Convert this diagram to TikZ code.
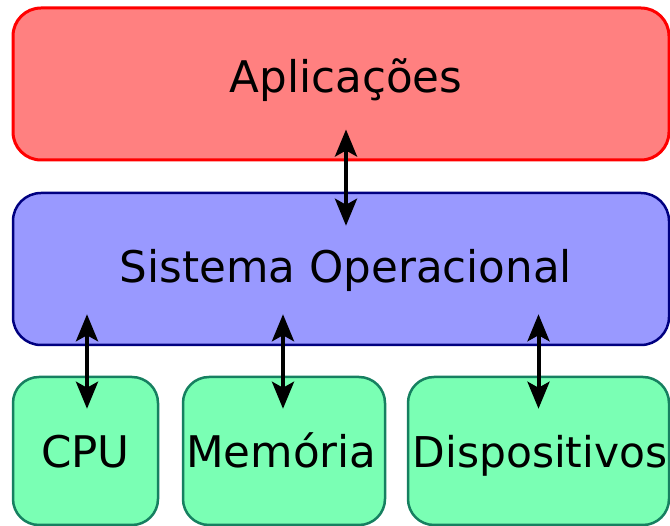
\documentclass[tikz,border=0pt]{standalone}
\usepackage{fontspec}
\setmainfont{DejaVu Sans}
\usetikzlibrary{arrows.meta}
\definecolor{appfill}{RGB}{255,128,128}
\definecolor{appdraw}{RGB}{255,0,0}
\definecolor{sofill}{RGB}{153,153,255}
\definecolor{sodraw}{RGB}{0,0,128}
\definecolor{hwfill}{RGB}{122,255,180}
\definecolor{hwdraw}{RGB}{22,128,96}
\tikzset{
  layer/.style={rounded corners=28pt, inner sep=0pt},
  applayer/.style={layer, fill=appfill, draw=appdraw, line width=3pt},
  solayer/.style={layer, fill=sofill, draw=sodraw, line width=2.5pt},
  hwbox/.style={layer, fill=hwfill, draw=hwdraw, line width=2.5pt, rounded corners=26pt, minimum height=148pt},
  lbl/.style={anchor=base, inner sep=0pt, font=\fontsize{43.6}{50}\selectfont},
  arr/.style={line width=4pt, {Stealth[length=27pt,width=22pt,inset=6pt]}-{Stealth[length=27pt,width=22pt,inset=6pt]}}
}
\begin{document}
\begin{tikzpicture}[x=1pt,y=-1pt]
\useasboundingbox (0,0) rectangle (670,526);
\node[applayer, minimum width=656pt, minimum height=152pt] (app) at (341,84) {};
\node[solayer, minimum width=656pt, minimum height=152pt] (so) at (341,269) {};
\node[hwbox, minimum width=145pt] (cpu) at (85.5,451) {};
\node[hwbox, minimum width=202pt] (mem) at (284,451) {};
\node[hwbox, minimum width=261pt] (disp) at (538.5,451) {};
\node[lbl] (applbl) at (346,93) {Aplicações};
\node[lbl] (solbl) at (346,283) {Sistema Operacional};
\node[lbl] (cpulbl) at (85.5,468) {CPU};
\node[lbl] (memlbl) at (281.5,468) {Memória};
\node[lbl, font=\fontsize{42.4}{50}\selectfont] (displbl) at (540,468) {Dispositivos};
\draw[arr] ([xshift=5pt,yshift=32pt]app.south) -- ([xshift=5pt,yshift=-34pt]so.north);
\draw[arr] ([xshift=1.5pt,yshift=32pt]so.south -| cpu.north) -- ([xshift=1.5pt,yshift=-33pt]cpu.north);
\draw[arr] ([xshift=-1pt,yshift=32pt]so.south -| mem.north) -- ([xshift=-1pt,yshift=-33pt]mem.north);
\draw[arr] ([yshift=32pt]so.south -| disp.north) -- ([yshift=-33pt]disp.north);
\end{tikzpicture}
\end{document}
